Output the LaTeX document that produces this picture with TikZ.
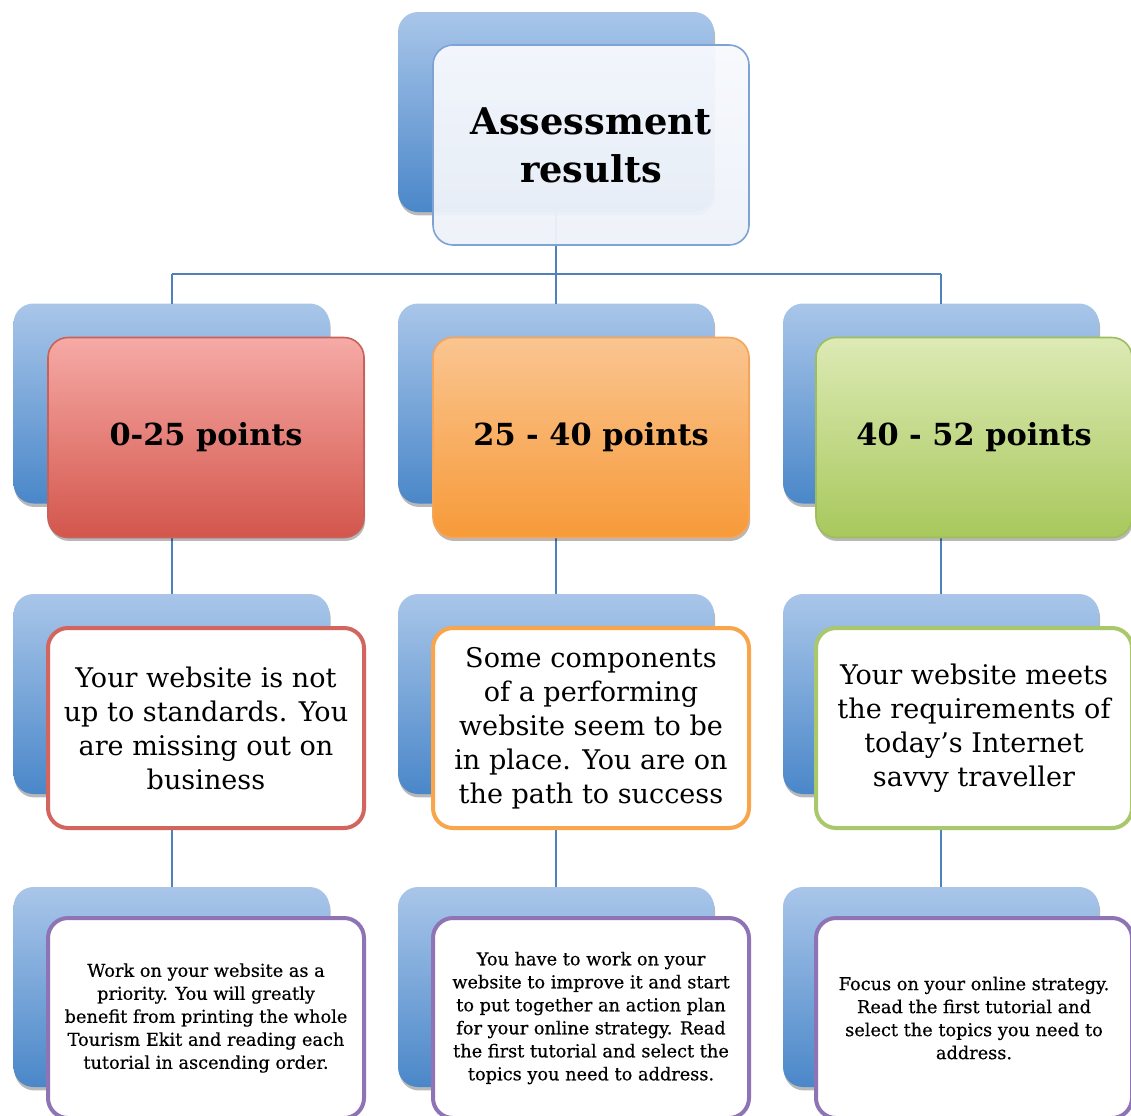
\documentclass[tikz,border=0pt]{standalone}
\usepackage{fontspec}
\setmainfont{DejaVu Serif}
\newfontfamily\tutfont[FakeBold=0.5]{DejaVu Serif}
\usetikzlibrary{shadows}
\definecolor{bktop}{HTML}{A9C6E9}
\definecolor{bkbot}{HTML}{4A87C9}
\definecolor{conn}{HTML}{4F81BD}
\definecolor{tfront}{HTML}{F7F9FD}
\definecolor{tfrontb}{HTML}{EEF2F9}
\definecolor{tborder}{HTML}{7EA2D3}
\definecolor{redtop}{HTML}{F6AAA6}
\definecolor{redbot}{HTML}{D3564C}
\definecolor{redbd}{HTML}{C9615A}
\definecolor{orgtop}{HTML}{FAC590}
\definecolor{orgbot}{HTML}{F79A39}
\definecolor{orgbd}{HTML}{F5A55A}
\definecolor{grntop}{HTML}{DDEAB5}
\definecolor{grnbot}{HTML}{A8C85C}
\definecolor{grnbd}{HTML}{9DBD5E}
\definecolor{red3}{HTML}{D2665F}
\definecolor{org3}{HTML}{F8A54B}
\definecolor{grn3}{HTML}{A9C86B}
\definecolor{pur}{HTML}{8E74B4}
\begin{document}
\begin{tikzpicture}[x=0.75pt,y=-0.75pt,
  shd/.style={drop shadow={shadow xshift=0.8pt,shadow yshift=-2.6pt,opacity=0.28,fill=black}},
  boxbase/.style={rectangle,rounded corners=15pt,minimum width=237pt,minimum height=150pt,inner sep=0pt,outer sep=0pt,align=center},
  backbox/.style={boxbase,top color=bktop,bottom color=bkbot,shd},
  topfront/.style={boxbase,draw=tborder,line width=1.2pt,top color=tfront,bottom color=tfrontb,fill opacity=0.95,text opacity=1,font=\fontsize{27.6}{36}\selectfont\bfseries},
  ptsbox/.style={boxbase,line width=1.2pt,shd,font=\fontsize{22.8}{28}\selectfont\bfseries},
  descbox/.style={boxbase,line width=3pt,fill=white,font=\fontsize{20.3}{25.5}\selectfont},
  tutbox/.style={boxbase,line width=3pt,draw=pur,fill=white,font=\fontsize{13.3}{17.25}\tutfont\selectfont},
  connline/.style={draw=conn,line width=1.5pt}
]
\useasboundingbox (0,0) rectangle (1131,1115);
\fill[white] (0,0) rectangle (1131,1115);
\clip (0,0) rectangle (1131,1115);

% back boxes
\node[backbox] (b0) at (556,112) {};
\node[backbox] (b11) at (171.5,403.5) {};
\node[backbox] (b12) at (556,403.5) {};
\node[backbox] (b13) at (941,403.5) {};
\node[backbox] (b21) at (171.5,694) {};
\node[backbox] (b22) at (556,694) {};
\node[backbox] (b23) at (941,694) {};
\node[backbox] (b31) at (171.5,987) {};
\node[backbox] (b32) at (556,987) {};
\node[backbox] (b33) at (941,987) {};

% connectors
\coordinate (hub) at (556,274);
\coordinate (hl) at (171.5,274);
\coordinate (hr) at (941,274);
\draw[connline] (b0.south) -- (hub);
\draw[connline] (hl) -- (hr);
\draw[connline] (hl) -- (b11.north);
\draw[connline] (hub) -- (b12.north);
\draw[connline] (hr) -- (b13.north);
\draw[connline] (b11.south) -- (b21.north);
\draw[connline] (b12.south) -- (b22.north);
\draw[connline] (b13.south) -- (b23.north);
\draw[connline] (b21.south) -- (b31.north);
\draw[connline] (b22.south) -- (b32.north);
\draw[connline] (b23.south) -- (b33.north);

% front boxes
\node[topfront] (f0) at (591,145) {Assessment\\results};

\node[ptsbox,draw=redbd,top color=redtop,bottom color=redbot] (f11) at (206,437.5) {\raisebox{-2pt}{0-25 points}};
\node[ptsbox,draw=orgbd,top color=orgtop,bottom color=orgbot] (f12) at (591,437.5) {\raisebox{-2pt}{25 - 40 points}};
\node[ptsbox,draw=grnbd,top color=grntop,bottom color=grnbot] (f13) at (974,437.5) {\raisebox{-2pt}{40 - 52 points}};

\node[descbox,draw=red3] (f21) at (206,728) {Your website is not\\up to standards. You\\are missing out on\\business};
\node[descbox,draw=org3] (f22) at (591,728) {Some components\\of a performing\\website seem to be\\in place. You are on\\the path to success};
\node[descbox,draw=grn3] (f23) at (974,728) {Your website meets\\the requirements of\\today's Internet\\savvy traveller};

\node[tutbox] (f31) at (206,1018) {Work on your website as a\\priority. You will greatly\\benefit from printing the whole\\Tourism Ekit and reading each\\tutorial in ascending order.};
\node[tutbox] (f32) at (591,1018) {You have to work on your\\website to improve it and start\\to put together an action plan\\for your online strategy. Read\\the first tutorial and select the\\topics you need to address.};
\node[tutbox] (f33) at (974,1018) {Focus on your online strategy.\\Read the first tutorial and\\select the topics you need to\\address.};
\end{tikzpicture}
\end{document}
